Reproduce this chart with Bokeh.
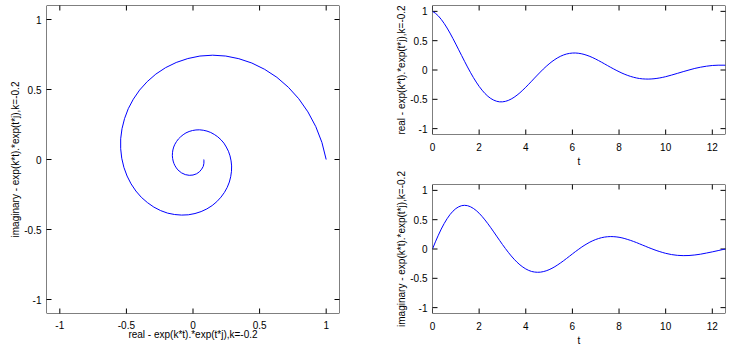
import math
from bokeh.plotting import figure
from bokeh.layouts import row, column
from bokeh.models import FixedTicker, CustomJSTickFormatter, Range1d, BoxAnnotation
from bokeh.embed import file_html
from bokeh.resources import INLINE

# t samples (0 .. 4*pi)
t = [0.0, 0.125, 0.25, 0.375, 0.5, 0.625, 0.75, 0.875, 1.0, 1.125, 1.25,
     1.375, 1.5, 1.625, 1.75, 1.875, 2.0, 2.125, 2.25, 2.375, 2.5, 2.625,
     2.75, 2.875, 3.0, 3.125, 3.25, 3.375, 3.5, 3.625, 3.75, 3.875, 4.0,
     4.125, 4.25, 4.375, 4.5, 4.625, 4.75, 4.875, 5.0, 5.125, 5.25, 5.375,
     5.5, 5.625, 5.75, 5.875, 6.0, 6.125, 6.25, 6.375, 6.5, 6.625, 6.75,
     6.875, 7.0, 7.125, 7.25, 7.375, 7.5, 7.625, 7.75, 7.875, 8.0, 8.125,
     8.25, 8.375, 8.5, 8.625, 8.75, 8.875, 9.0, 9.125, 9.25, 9.375, 9.5,
     9.625, 9.75, 9.875, 10.0, 10.25, 10.5, 10.75, 11.0, 11.25, 11.5,
     11.75, 12.0, 12.25, 12.5, 12.566]

# real part of exp(k*t).*exp(t*j), k=-0.2
real_part = [1.000, 0.968, 0.922, 0.863, 0.794, 0.716, 0.630, 0.538, 0.442,
             0.344, 0.246, 0.148, 0.052, -0.039, -0.126, -0.206, -0.279,
             -0.344, -0.401, -0.448, -0.486, -0.514, -0.533, -0.543, -0.543,
             -0.535, -0.519, -0.495, -0.465, -0.429, -0.388, -0.342, -0.294,
             -0.243, -0.191, -0.138, -0.086, -0.035, 0.015, 0.061, 0.104,
             0.144, 0.179, 0.210, 0.236, 0.257, 0.273, 0.283, 0.289, 0.290,
             0.286, 0.278, 0.266, 0.250, 0.232, 0.210, 0.186, 0.160, 0.133,
             0.105, 0.077, 0.049, 0.022, -0.004, -0.029, -0.053, -0.074,
             -0.093, -0.110, -0.124, -0.136, -0.145, -0.151, -0.154, -0.155,
             -0.153, -0.149, -0.143, -0.135, -0.125, -0.114, -0.087, -0.058,
             -0.028, 0.000, 0.027, 0.048, 0.065, 0.077, 0.082, 0.082, 0.081]

# imaginary part
imag_part = [0.000, 0.122, 0.235, 0.340, 0.434, 0.516, 0.587, 0.644, 0.689,
             0.720, 0.739, 0.745, 0.739, 0.721, 0.693, 0.656, 0.610, 0.556,
             0.496, 0.431, 0.363, 0.292, 0.220, 0.148, 0.077, 0.009, -0.056,
             -0.118, -0.174, -0.225, -0.270, -0.308, -0.340, -0.365, -0.383,
             -0.393, -0.397, -0.395, -0.386, -0.372, -0.353, -0.329, -0.301,
             -0.269, -0.235, -0.199, -0.161, -0.123, -0.084, -0.046, -0.010,
             0.026, 0.059, 0.089, 0.117, 0.141, 0.162, 0.179, 0.193, 0.203,
             0.209, 0.212, 0.211, 0.207, 0.200, 0.190, 0.177, 0.162, 0.146,
             0.128, 0.109, 0.089, 0.068, 0.048, 0.027, 0.008, -0.011, -0.029,
             -0.045, -0.060, -0.074, -0.095, -0.108, -0.113, -0.111, -0.102,
             -0.088, -0.069, -0.049, -0.027, -0.005, 0.000]

unit_ticks = [-1, -0.5, 0, 0.5, 1]
t_ticks = [0, 2, 4, 6, 8, 10, 12]

label_re = "real - exp(k*t).*exp(t*j),k=-0.2"
label_im = "imaginary - exp(k*t).*exp(t*j),k=-0.2"

FONT = "Liberation Sans"
TICK_SIZE = "10px"
LABEL_SIZE = "10px"
BLUE = "#0000ff"
TICK_LEN = 10  # marker centred on the frame edge -> 5px visible inside


def style_axis(ax, ticks, label, standoff, label_standoff):
    ax.ticker = FixedTicker(ticks=ticks)
    ax.major_tick_line_color = None
    ax.minor_tick_line_color = None
    ax.axis_line_color = None
    ax.major_tick_in = 0
    ax.major_tick_out = 0
    ax.formatter = CustomJSTickFormatter(code="return String(tick);")
    ax.major_label_text_font = FONT
    ax.major_label_text_font_size = TICK_SIZE
    ax.major_label_text_color = "black"
    ax.major_label_standoff = standoff
    ax.axis_label = label
    ax.axis_label_text_font = FONT
    ax.axis_label_text_font_size = LABEL_SIZE
    ax.axis_label_text_font_style = "normal"
    ax.axis_label_text_color = "black"
    ax.axis_label_standoff = label_standoff


def make_fig(fw, fh, xr, yr, xticks, yticks, xlabel, ylabel,
             bl, br, bt, bb, xtick_standoff, xlabel_standoff):
    p = figure(frame_width=fw, frame_height=fh, output_backend="svg",
               toolbar_location=None, x_range=xr, y_range=yr,
               min_border_left=bl, min_border_right=br,
               min_border_top=bt, min_border_bottom=bb)
    p.outline_line_color = None
    p.xgrid.grid_line_color = None
    p.ygrid.grid_line_color = None
    style_axis(p.xaxis[0], xticks, xlabel, xtick_standoff, xlabel_standoff)
    style_axis(p.yaxis[0], yticks, ylabel, 5, 0)
    # inward tick marks on all four sides of the frame
    nx, ny = len(xticks), len(yticks)
    p.scatter(xticks, [yr.start] * nx, marker="dash", size=TICK_LEN,
              angle=math.pi / 2, line_color="black", line_width=1)
    p.scatter(xticks, [yr.end] * nx, marker="dash", size=TICK_LEN,
              angle=math.pi / 2, line_color="black", line_width=1)
    p.scatter([xr.start] * ny, yticks, marker="dash", size=TICK_LEN,
              line_color="black", line_width=1)
    p.scatter([xr.end] * ny, yticks, marker="dash", size=TICK_LEN,
              line_color="black", line_width=1)
    # frame box
    p.add_layout(BoxAnnotation(fill_alpha=0, line_color="black",
                               line_width=1, line_alpha=1))
    return p


# left: spiral
p1 = make_fig(293, 308, Range1d(-1.1, 1.1), Range1d(-1.1, 1.1),
              unit_ticks, unit_ticks, label_re, label_im,
              46, 49, 5, 34, 7, -3)
p1.line(real_part, imag_part, line_color=BLUE, line_width=1)

# top right: real part vs t
p2 = make_fig(293, 129, Range1d(0, t[-1]), Range1d(-1.1, 1.1),
              t_ticks, unit_ticks, "t", label_re,
              44, 8, 5, 35, 8, 2)
p2.line(t, real_part, line_color=BLUE, line_width=1)

# bottom right: imaginary part vs t
p3 = make_fig(293, 129, Range1d(0, t[-1]), Range1d(-1.1, 1.1),
              t_ticks, unit_ticks, "t", label_im,
              44, 8, 15, 34, 8, 2)
p3.line(t, imag_part, line_color=BLUE, line_width=1)

layout = row(p1, column(p2, p3))

open("out.html", "w").write(file_html(layout, INLINE))
